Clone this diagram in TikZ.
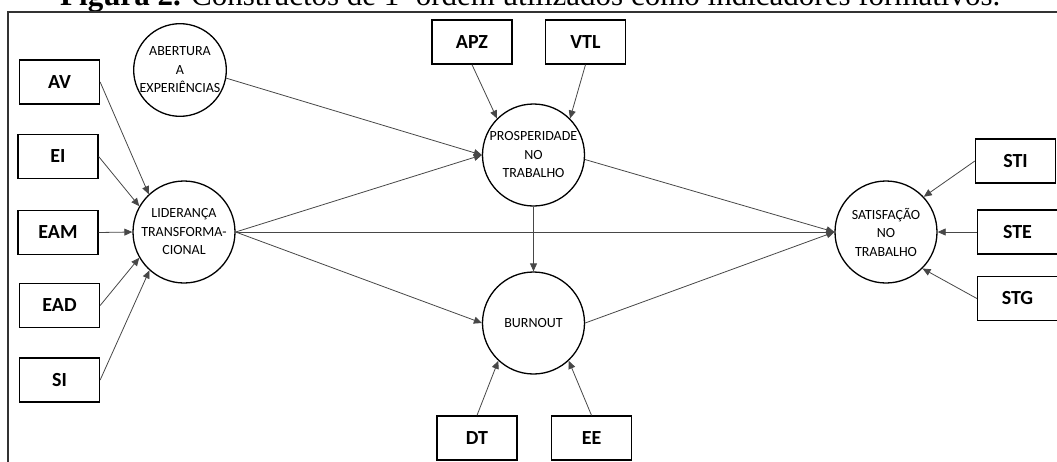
\documentclass[tikz,border=0pt]{standalone}
\usepackage{fontspec}
\setmainfont{Carlito}
\newfontfamily\capfont{Liberation Serif}
\usetikzlibrary{arrows.meta}
\begin{document}
\begin{tikzpicture}[x=1pt,y=-1pt,
  lat/.style={circle,draw=black,line width=1.3pt,minimum size=102pt,inner sep=0pt,align=center,font=\fontsize{14}{18.5}\selectfont},
  ind/.style={rectangle,draw=black,line width=1.3pt,minimum width=80pt,minimum height=44pt,inner sep=0pt,font=\fontsize{20}{24}\selectfont\bfseries},
  conn/.style={draw=black!72,line width=0.8pt,-{Triangle[length=8pt,width=7pt]}},
  frame/.style={draw=black!80,line width=1.4pt}]
\useasboundingbox (0,0) rectangle (1057,461);
\clip (0,0) rectangle (1057,461);
\node[anchor=base west,font=\capfont\fontsize{31}{33}\selectfont,inner sep=0pt] (cap) at (60,5) {\textbf{Figura 2.} Constructos de 1ª ordem utilizados como indicadores formativos.};
\coordinate (f1) at (8,470);
\coordinate (f2) at (8,12);
\coordinate (f3) at (1070,12);
\draw[frame] (f1) -- (f2) -- (f3);
% latent constructs
\node[lat,minimum size=88pt] (ABE) at (180,70) {ABERTURA\\A\\EXPERIÊNCIAS};
\node[lat] (LID) at (184,232) {LIDERANÇA\\TRANSFORMA-\\CIONAL};
\node[lat] (PROS) at (533.5,155) {PROSPERIDADE\\NO\\TRABALHO};
\node[lat] (BUR) at (533.5,323) {BURNOUT};
\node[lat] (SAT) at (886,232) {SATISFAÇÃO\\NO\\TRABALHO};
% indicators
\node[ind] (AV) at (59.5,82) {AV};
\node[ind] (EI) at (58,156.5) {EI};
\node[ind] (EAM) at (58,232.5) {EAM};
\node[ind] (EAD) at (59.5,305.5) {EAD};
\node[ind] (SI) at (59.5,380) {SI};
\node[ind] (APZ) at (472,42) {APZ};
\node[ind] (VTL) at (585.5,42) {VTL};
\node[ind] (DT) at (477,438) {DT};
\node[ind] (EE) at (591.5,438) {EE};
\node[ind] (STI) at (1015.5,161) {STI};
\node[ind] (STE) at (1017.5,232) {STE};
\node[ind] (STG) at (1017.5,298.5) {STG};
% connectors
\draw[conn] (AV.east) -- (LID.133);
\draw[conn] (EI.east) -- (LID.150);
\draw[conn] (EAM.east) -- (LID.west);
\draw[conn] (EAD.east) -- (LID.210);
\draw[conn] (SI.east) -- (LID.228);
\draw[conn] (ABE.350) -- (PROS.west);
\draw[conn] (LID.east) -- (PROS.west);
\draw[conn] (LID.east) -- (SAT.west);
\draw[conn] (LID.east) -- (BUR.west);
\draw[conn] (PROS.south) -- (BUR.north);
\draw[conn] (PROS.355) -- (SAT.west);
\draw[conn] (BUR.east) -- (SAT.west);
\draw[conn] (APZ.south) -- (PROS.135);
\draw[conn] (VTL.south) -- (PROS.45);
\draw[conn] (DT.north) -- (BUR.227);
\draw[conn] (EE.north) -- (BUR.313);
\draw[conn] (STI.west) -- (SAT.43);
\draw[conn] (STE.west) -- (SAT.east);
\draw[conn] (STG.west) -- (SAT.315);
\end{tikzpicture}
\end{document}
